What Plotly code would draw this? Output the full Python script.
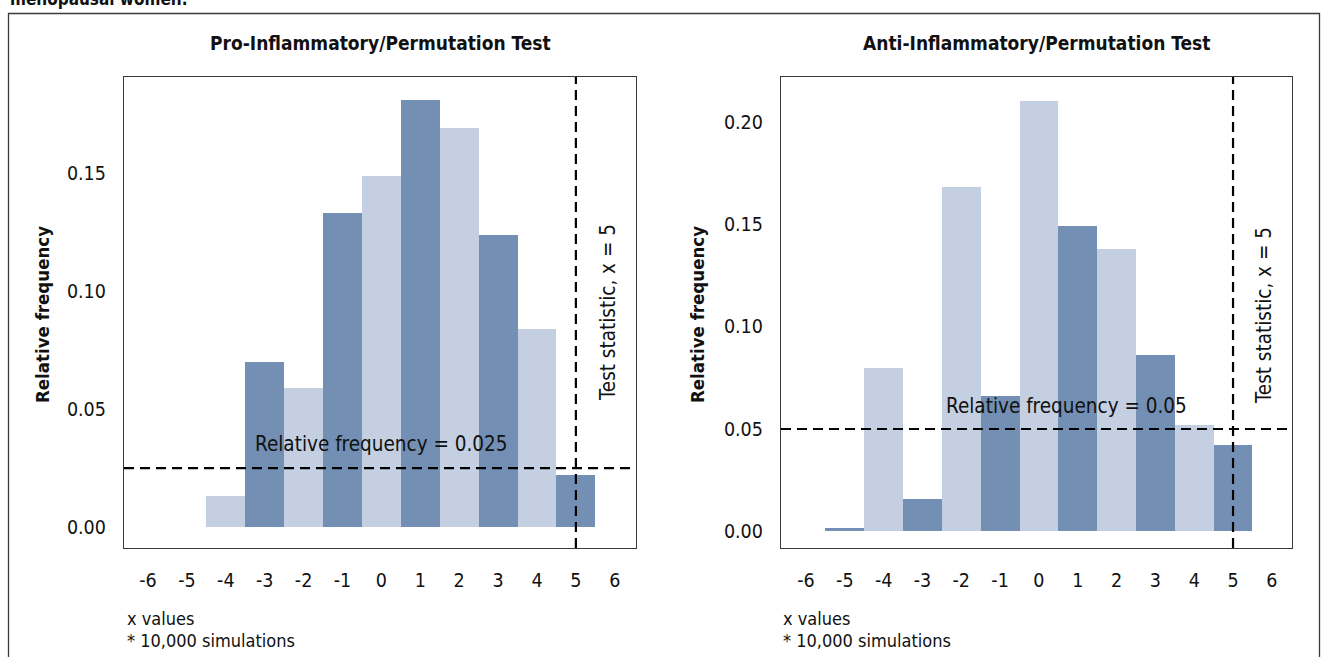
import plotly.graph_objects as go

# ---- data ----
pro_x = [-4, -3, -2, -1, 0, 1, 2, 3, 4, 5]
pro_freq = [0.013, 0.070, 0.059, 0.133, 0.149, 0.181, 0.169, 0.124, 0.084, 0.022]
anti_x = [-5, -4, -3, -2, -1, 0, 1, 2, 3, 4, 5]
anti_freq = [0.0015, 0.080, 0.016, 0.168, 0.066, 0.210, 0.149, 0.138, 0.086, 0.052, 0.042]
x_ticks = [-6, -5, -4, -3, -2, -1, 0, 1, 2, 3, 4, 5, 6]
x_ticklabels = ["-6", "-5", "-4", "-3", "-2", "-1", "0", "1", "2", "3", "4", "5", "6"]
pro_yticks = [0.00, 0.05, 0.10, 0.15]
anti_yticks = [0.00, 0.05, 0.10, 0.15, 0.20]
pro_threshold = 0.025
anti_threshold = 0.05
test_stat = 5

DARK = "#7390b4"
LIGHT = "#c4cfe1"
FONT = "Liberation Sans Narrow, DejaVu Sans Condensed, Roboto, sans-serif"

W, H = 1325, 657
def px(x): return x / W
def py(y): return 1 - y / H

def colors(xs):
    return [DARK if v % 2 else LIGHT for v in xs]

fig = go.Figure()
fig.add_trace(go.Bar(x=pro_x, y=pro_freq, width=1, marker=dict(color=colors(pro_x), line=dict(width=0)),
                     xaxis="x", yaxis="y", showlegend=False))
fig.add_trace(go.Bar(x=anti_x, y=anti_freq, width=1, marker=dict(color=colors(anti_x), line=dict(width=0)),
                     xaxis="x2", yaxis="y2", showlegend=False))

axis_common = dict(showgrid=False, zeroline=False, showline=True, mirror=True,
                   linecolor="#3a3a3a", linewidth=1.3, ticks="",
                   tickfont=dict(family=FONT, size=19.5, color="#111"))

fig.update_layout(
    width=W, height=H, margin=dict(l=0, r=0, t=0, b=0),
    paper_bgcolor="white", plot_bgcolor="white", bargap=0,
    xaxis=dict(domain=[px(124), px(636)], range=[-6.617, 6.545], tickvals=x_ticks, ticktext=x_ticklabels,
               ticklabelstandoff=14, anchor="y", **axis_common),
    yaxis=dict(domain=[py(548), py(77)], range=[-0.0089, 0.1908], tickvals=pro_yticks,
               tickformat=".2f", ticklabelstandoff=13, anchor="x", **axis_common),
    xaxis2=dict(domain=[px(781), px(1292)], range=[-6.644, 6.519], tickvals=x_ticks, ticktext=x_ticklabels,
                ticklabelstandoff=14, anchor="y2", **axis_common),
    yaxis2=dict(domain=[py(548), py(77)], range=[-0.0081, 0.2219], tickvals=anti_yticks,
                tickformat=".2f", ticklabelstandoff=13, anchor="x2", **axis_common),
)

dash = dict(color="black", width=2.2, dash="10px,6px")
# threshold lines
fig.add_shape(type="line", xref="x domain", yref="y", x0=0, x1=1, y0=pro_threshold, y1=pro_threshold, line=dash)
fig.add_shape(type="line", xref="x2 domain", yref="y2", x0=0, x1=1, y0=anti_threshold, y1=anti_threshold, line=dash)
# test statistic lines
fig.add_shape(type="line", xref="x", yref="y domain", x0=test_stat, x1=test_stat, y0=0, y1=1, line=dash)
fig.add_shape(type="line", xref="x2", yref="y2 domain", x0=test_stat, x1=test_stat, y0=0, y1=1, line=dash)

# outer frame
fig.add_shape(type="rect", xref="paper", yref="paper", x0=px(8.5), x1=px(1319.5), y0=-0.05, y1=py(13.5),
              line=dict(color="#3a3a3a", width=1.3), fillcolor="rgba(0,0,0,0)", layer="below")

def text(x, y, s, size=19, bold=False, angle=0, xanchor="center", yanchor="middle"):
    fig.add_annotation(xref="paper", yref="paper", x=px(x), y=py(y), text=s, showarrow=False,
                       textangle=angle, xanchor=xanchor, yanchor=yanchor,
                       font=dict(family=FONT, size=size, color="#111", weight="bold" if bold else "normal"))

# cut-off caption at top (cropped in the reference as well)
text(8, 11, "menopausal women.", size=17, bold=True, xanchor="left", yanchor="bottom")

# titles
text(380, 43, "Pro-Inflammatory/Permutation Test", size=19, bold=True)
text(1036, 43, "Anti-Inflammatory/Permutation Test", size=19, bold=True)

# y titles
text(42, 314, "Relative frequency", size=18.5, bold=True, angle=-90)
text(697, 314, "Relative frequency", size=18.5, bold=True, angle=-90)

# inside annotations
text(381, 444, "Relative frequency = 0.025", size=20.5)
text(1066, 406, "Relative frequency = 0.05", size=20.5)
text(608, 313, "Test statistic, x = 5", size=20.5, angle=-90)
text(1264, 316, "Test statistic, x = 5", size=20.5, angle=-90)

# bottom notes
for x0 in (125, 781):
    text(x0, 618, "x values", size=18, xanchor="left")
    text(x0, 640, "* 10,000 simulations", size=18, xanchor="left")

fig.write_html("out.html", config={"displayModeBar": False},
               post_script="document.body.style.margin='0';document.body.style.overflow='hidden';")
